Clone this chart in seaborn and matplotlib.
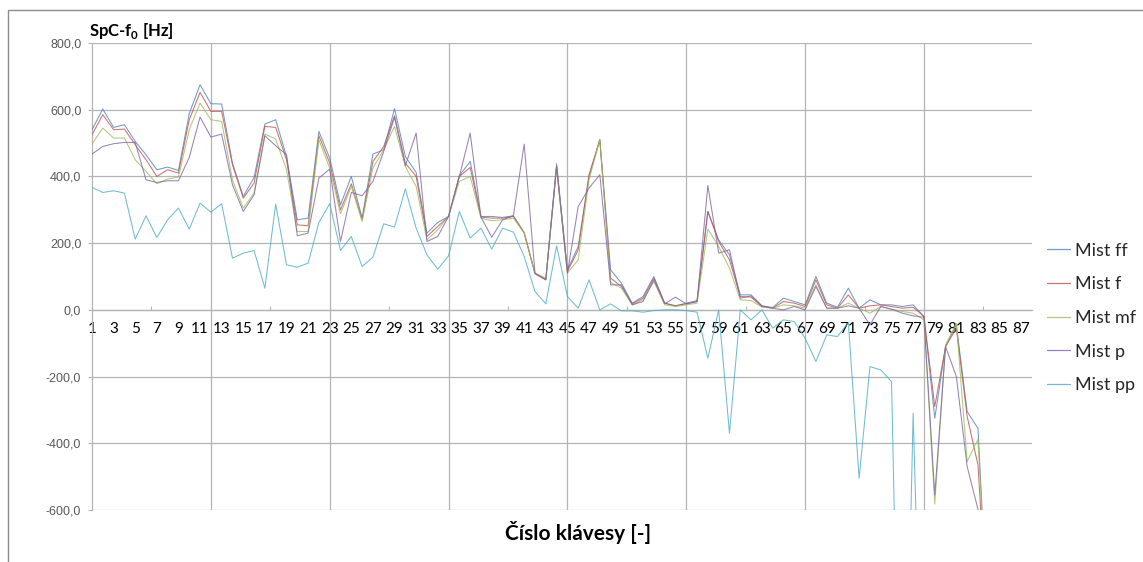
import numpy as np
import pandas as pd
import matplotlib
matplotlib.use("Agg")
import matplotlib.pyplot as plt
import seaborn as sns
from matplotlib.ticker import FuncFormatter, FixedLocator
from matplotlib.patches import Rectangle

# Piano key numbers 1..88
keys = np.arange(1, 89)
nan = np.nan

# Spectral centroid minus f0 [Hz] for each dynamic level
mist_ff = [540, 602, 547, 555, 505, 465, 420, 428, 418, 588,
           675, 618, 617, 440, 340, 397, 557, 570, 460, 270,
           275, 535, 455, 315, 400, 275, 467, 480, 603, 460,
           412, 230, 262, 280, 402, 445, 280, 280, 277, 282,
           232, 110, 92, 438, 120, 190, 400, 510, 120, 80,
           20, 40, 100, 20, 12, 20, 28, 295, 210, 165,
           45, 45, 12, 7, 35, 25, 15, 100, 20, 8,
           65, 5, 30, 15, 15, 10, 15, -20, -325, -110,
           -45, -305, -355, -1000, nan, nan, nan, nan]
mist_f = [525, 585, 540, 542, 495, 450, 400, 420, 410, 570,
          652, 595, 595, 435, 335, 380, 550, 547, 450, 255,
          252, 522, 440, 300, 378, 270, 445, 490, 582, 440,
          400, 220, 250, 280, 400, 427, 278, 275, 275, 280,
          230, 108, 90, 430, 115, 180, 405, 510, 95, 70,
          18, 35, 95, 20, 12, 18, 25, 295, 205, 150,
          40, 38, 10, 5, 25, 20, 10, 90, 15, 5,
          45, 5, 12, 15, 10, 5, 8, -20, -290, -110,
          -55, -320, -465, -1000, nan, nan, nan, nan]
mist_mf = [497, 545, 515, 515, 450, 415, 378, 392, 398, 540,
           620, 570, 565, 390, 305, 350, 527, 512, 420, 235,
           235, 510, 425, 288, 370, 265, 425, 480, 550, 430,
           370, 210, 240, 280, 385, 400, 275, 267, 270, 275,
           230, 110, 95, 425, 110, 150, 390, 510, 82, 65,
           15, 30, 85, 15, 10, 15, 20, 242, 190, 125,
           30, 28, 8, 5, 15, 12, 5, 75, 5, 5,
           20, 5, -10, 10, 2, -5, -10, -30, -582, -105,
           -40, -455, -388, -1000, nan, nan, nan, nan]
mist_p = [467, 490, 498, 502, 502, 390, 382, 387, 387, 457,
          578, 518, 527, 375, 295, 345, 522, 492, 465, 222,
          230, 395, 422, 205, 352, 342, 385, 475, 577, 432,
          530, 205, 220, 280, 400, 530, 278, 218, 270, 282,
          497, 110, 90, 430, 110, 310, 365, 405, 75, 75,
          15, 25, 90, 18, 38, 18, 25, 373, 170, 180,
          35, 42, 12, 5, 0, 10, 0, 70, 5, 5,
          12, 5, -45, 10, 2, -10, -18, -22, -555, -110,
          -200, -470, -598, -1000, nan, nan, nan, nan]
mist_pp = [367, 352, 357, 350, 212, 282, 217, 270, 305, 242,
           320, 293, 318, 155, 170, 178, 65, 317, 135, 128,
           140, 262, 318, 178, 220, 130, 158, 258, 248, 363,
           245, 165, 122, 162, 295, 215, 245, 182, 245, 233,
           160, 55, 18, 192, 40, 5, 90, 0, 18, -3,
           -3, -7, -2, 0, 0, -2, -7, -145, 0, -370,
           0, -30, 0, -55, -30, -35, -85, -155, -75, -80,
           -38, -505, -170, -180, -215, -1750, -310, -1470, nan, nan,
           nan, nan, nan, nan, nan, nan, nan, nan]

series_names = ["Mist ff", "Mist f", "Mist mf", "Mist p", "Mist pp"]
series_values = [mist_ff, mist_f, mist_mf, mist_p, mist_pp]
series_colors = ["#4F81BD", "#C0504D", "#9BBB59", "#8064A2", "#4BACC6"]

y_ticks = [-600, -400, -200, 0, 200, 400, 600, 800]
x_tick_labels = [str(k) for k in range(1, 88, 2)]

df = pd.DataFrame({
    "key": np.tile(keys, len(series_names)),
    "value": np.concatenate([np.asarray(v, dtype=float) for v in series_values]),
    "series": np.repeat(series_names, len(keys)),
})

sns.set_style("white")
plt.rcParams["font.family"] = ["Lato", "DejaVu Sans"]
plt.rcParams["axes.unicode_minus"] = False
plt.rcParams["mathtext.fontset"] = "custom"
plt.rcParams["mathtext.rm"] = "Lato"
plt.rcParams["mathtext.bf"] = "Lato:bold"

W, H = 1143, 562
fig = plt.figure(figsize=(W / 100, H / 100), dpi=100)
ax = fig.add_axes([92 / W, 52 / H, 940 / W, 467 / H])

grid_color = "#B4B4B4"

sns.lineplot(data=df, x="key", y="value", hue="series", hue_order=series_names,
             palette=series_colors, linewidth=0.75, alpha=0.8, estimator=None,
             sort=False, ax=ax, zorder=3)

ax.set_xlim(1, 88)
ax.set_ylim(-600, 800)

# horizontal grid
ax.set_yticks(y_ticks)
ax.yaxis.set_major_formatter(FuncFormatter(lambda v, p: f"{v:.1f}".replace(".", ",")))
ax.yaxis.grid(True, color=grid_color, linewidth=0.9)
ax.xaxis.grid(False)
ax.tick_params(axis="y", which="major", length=3.2, width=0.8, color=grid_color,
               pad=4.5, labelsize=9, labelcolor="#595959", left=True)
for lab in ax.get_yticklabels():
    lab.set_family(["Liberation Sans", "DejaVu Sans"])

# vertical grid every 11 keys
for k in range(12, 89, 11):
    ax.axvline(k, color=grid_color, linewidth=0.9, zorder=1)

# category axis crossing at zero
ax.spines["bottom"].set_position(("data", 0))
ax.spines["bottom"].set_color(grid_color)
ax.spines["bottom"].set_linewidth(0.9)
ax.spines["left"].set_color(grid_color)
ax.spines["left"].set_linewidth(0.9)
ax.spines["top"].set_visible(False)
ax.spines["right"].set_visible(False)

ax.xaxis.set_major_locator(FixedLocator(list(range(1, 88, 2))))
ax.set_xticklabels(x_tick_labels)
ax.xaxis.set_minor_locator(FixedLocator([6.5 + 11 * i for i in range(8)]))
ax.tick_params(axis="x", which="major", length=0, pad=9, labelsize=11, labelcolor="#000000")
ax.tick_params(axis="x", which="minor", direction="in", length=3, width=0.8, color=grid_color, bottom=True)

ax.set_xlabel("")
ax.set_ylabel("")

handles, labels = ax.get_legend_handles_labels()
leg = ax.legend(handles, labels, loc="center left", bbox_to_anchor=(1047 / W, 1 - 318 / H),
                bbox_transform=fig.transFigure, frameon=False, fontsize=13,
                borderpad=0, borderaxespad=0, handlelength=1.3, handletextpad=0.25,
                labelspacing=0.98)
for line in leg.get_lines():
    line.set_linewidth(0.9)

fig.text(89 / W, 1 - 36 / H, r"SpC-f$_\mathbf{0}$ [Hz]", fontsize=12, fontweight="bold",
         ha="left", va="baseline", color="#000000")
fig.text(578 / W, 1 - 533 / H, "Číslo klávesy [-]", fontsize=15, fontweight="bold",
         ha="center", va="center", color="#000000")

# chart area frame
fig.add_artist(Rectangle((8 / W, -1), 2, 2 - 10 / H, transform=fig.transFigure,
                         fill=False, edgecolor="#8C8C8C", linewidth=1, clip_on=False))

fig.savefig("out.png", dpi=100)
